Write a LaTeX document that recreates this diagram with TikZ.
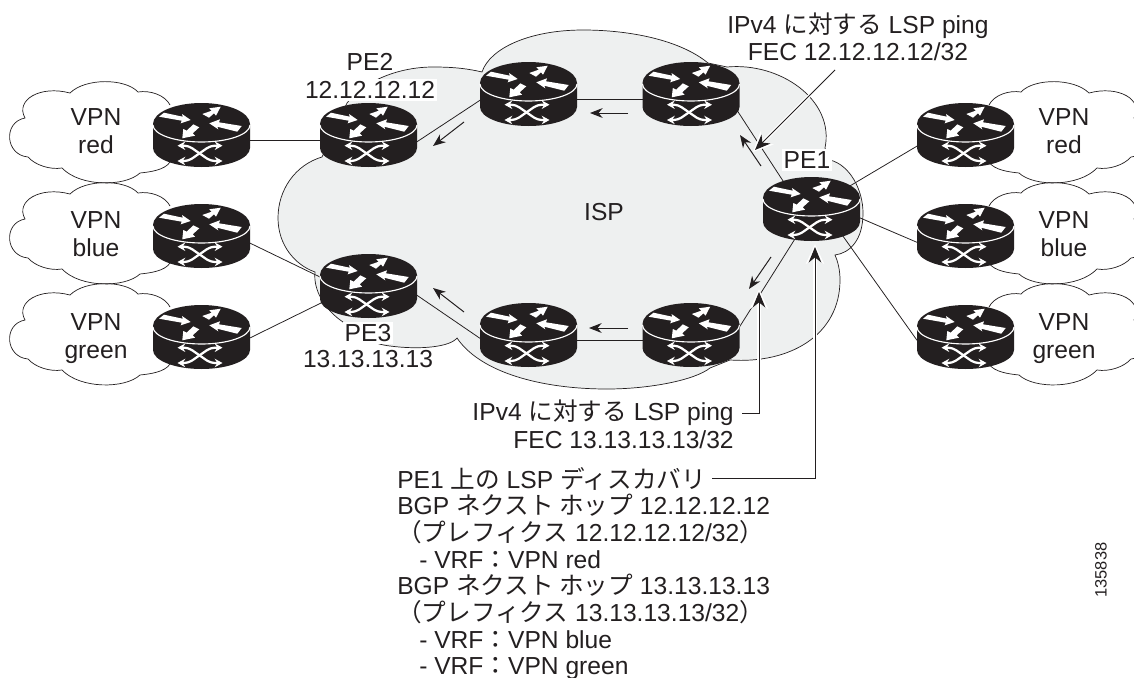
\documentclass[tikz,border=0pt]{standalone}
\usepackage{fontspec}
\setmainfont{Liberation Sans}
\newfontfamily\cjk{Noto Sans CJK JP}
\usetikzlibrary{arrows.meta,calc,shapes.geometric}
\def\jp#1{{\cjk #1}}
\definecolor{ink}{HTML}{231F20}
\definecolor{ispgrey}{HTML}{EEF0F0}
\tikzset{
  lbl/.style={font=\fontsize{17.5}{19.5}\selectfont,text=ink,inner sep=0pt},
  halo/.style={lbl,fill=white,inner sep=1.5pt},
  outline/.style={draw=ink,line width=0.5pt},
  conn/.style={draw=ink,line width=0.55pt},
  routernode/.style={ellipse,minimum width=2.42cm,minimum height=1.6cm,inner sep=0pt},
  flowarrow/.style={draw=ink,line width=0.7pt,-{Stealth[length=9pt,width=7pt]}},
  callout/.style={draw=ink,line width=0.7pt,-{Stealth[length=11pt,width=9pt]},
    preaction={draw=white,line width=2.4pt,shorten >=-2pt,-{Stealth[length=14pt,width=13pt]}}},
  vpncloud/.pic={
    \draw[outline] (-31.5,-30) .. controls (-36.5,-40) and (-51.5,-45) .. (-63.5,-43)
      .. controls (-76.5,-57) and (-116.5,-57) .. (-131.5,-42)
      .. controls (-161.5,-50) and (-186.5,-35) .. (-176.5,-17)
      .. controls (-198.5,-13) and (-196.5,20) .. (-173.5,22)
      .. controls (-166.5,30) and (-151.5,35) .. (-139.5,33)
      .. controls (-121.5,52) and (-76.5,52) .. (-61.5,38)
      .. controls (-51.5,37) and (-36.5,35) .. (-31.5,27);
  },
  routericon/.pic={
    \fill[ink] (-48.5,-11) -- (-48.5,13) arc[start angle=180,end angle=0,x radius=48.5,y radius=19]
      -- (48.5,-11) arc[start angle=0,end angle=-180,x radius=48.5,y radius=21] -- cycle;
    \draw[white,line width=0.8pt] (-48.5,-10) arc[start angle=180,end angle=0,x radius=48.5,y radius=17];
    % arrows on the lid
    \fill[white] (-42.5,-18.3) -- (-37.5,-22.3) -- (-18.8,-18.3) -- (-19.5,-21) -- (-10.8,-15) -- (-20.8,-11.7) -- (-19.8,-14.3) -- cycle;
    \fill[white] (0.8,-21) -- (7.5,-17.3) -- (12.5,-21.7) -- (14.5,-19.3) -- (19.2,-28.3) -- (7.8,-26.7) -- (10.2,-24.3) -- cycle;
    \fill[white] (-8.2,-10.7) -- (-2.2,-7.7) -- (-8.8,-1.7) -- (-6.5,0.7) -- (-19.2,3.3) -- (-18.2,-6) -- (-14.8,-4.3) -- cycle;
    \fill[white] (7.8,-11.7) -- (18.5,-15.7) -- (17.5,-12.7) -- (40.2,-9) -- (35.8,-3.3) -- (15.8,-8.3) -- (16.8,-5.7) -- cycle;
    % crossing arrows on the side
    \draw[white,line width=1.6pt,rounded corners=3pt,{Stealth[length=5.5pt,width=6pt]}-{Stealth[length=5.5pt,width=6pt]}] (-24,10.7) -- (-13,10.7) -- (9,26) -- (21,26);
    \draw[white,line width=1.6pt,rounded corners=3pt,{Stealth[length=5.5pt,width=6pt]}-{Stealth[length=5.5pt,width=6pt]}] (-24,26) -- (-13,26) -- (9,10.7) -- (21,10.7);
  }
}
\def\flow#1#2#3{\coordinate (#1s) at (#2); \coordinate (#1e) at (#3); \draw[flowarrow] (#1s) -- (#1e);}

\begin{document}
\begin{tikzpicture}[x=0.025cm,y=-0.025cm]
\useasboundingbox (0,0) rectangle (1134,678);
\clip (0,0) rectangle (1134,678);

% ISP cloud
\draw[outline,fill=ispgrey] (322,157) .. controls (295,165) and (278,190) .. (278,218)
  .. controls (278,245) and (295,265) .. (315,272)
  .. controls (313,290) and (325,310) .. (343,322)
  .. controls (355,335) and (372,344) .. (390,346)
  .. controls (420,350) and (450,347) .. (457,338)
  .. controls (480,372) and (540,389) .. (607,389)
  .. controls (650,389) and (695,380) .. (710,368)
  -- (730,360)
  .. controls (790,364) and (840,335) .. (840,280)
  .. controls (840,270) and (838,262) .. (835,255)
  .. controls (850,253) and (863,240) .. (863,213)
  .. controls (863,190) and (850,165) .. (830,160)
  -- (825,148)
  .. controls (835,100) and (780,62) .. (727,67)
  -- (708,63)
  .. controls (680,40) and (630,30) .. (583,30)
  .. controls (530,30) and (490,48) .. (482,72)
  .. controls (465,68) and (450,67) .. (433,67)
  .. controls (400,67) and (365,80) .. (347,103)
  -- cycle;

\foreach \rname/\rpos in {vr/{201.5,135},vb/{201.5,236},vg/{201.5,337},pe2/{368.5,135},pe3/{368.5,286},
  ta/{528.5,94},tb/{691,94},ba/{528.5,335},bb/{691,335},pe1/{811.5,209},
  rr/{965.5,135},rb/{965.5,236},rg/{965.5,337}}
  \node[routernode] (\rname) at (\rpos) {};

\foreach \rname in {vr,vb,vg} \pic at (\rname) {vpncloud};
\foreach \rname in {rr,rb,rg} \pic[xscale=-1] at ($(\rname)+(-8,0)$) {vpncloud};

% links
\draw[conn] (vr.-7) -- (pe2.187);
\draw[conn] (vb.-8) -- (pe3.170);
\draw[conn] (vg.-1) -- (pe3.199);
\draw[conn] (pe2.-9) -- (ta.187);
\draw[conn] (ta.-6) -- (tb.186);
\draw[conn] (tb.-17) -- (pe1.136);
\draw[conn] (pe3.-10) -- (ba.184);
\draw[conn] (ba.-7) -- (bb.187);
\draw[conn] (bb.8) -- (pe1.241);
\draw[conn] (pe1.31) -- (rr.192);
\draw[conn] (pe1.-10) -- (rb.188);
\draw[conn] (pe1.-40) -- (rg.184);

\foreach \rname in {vr,vb,vg,pe2,pe3,ta,tb,ba,bb,pe1,rr,rb,rg} \pic at (\rname) {routericon};

% traffic direction
\flow{fa}{761,166}{740,135}
\flow{fb}{628,113}{590,113}
\flow{fc}{464,122}{433,146}
\flow{fd}{771,257}{749,289}
\flow{fe}{628,328}{589,328}
\flow{ff}{464,312}{433,288}

\foreach \cname/\cx/\cy/\ctxt in {lr/96/135/red,lb/96/238/blue,lg/96/340/green,
  mr/1064/135/red,mb/1064/238/blue,mg/1064/340/green}
  \node[lbl,align=center] (\cname) at (\cx,\cy) {VPN\\\ctxt\strut};

\node[lbl] (isp) at (604,212) {ISP};
\node[lbl] (pe2a) at (370,62) {PE2};
\node[halo] (pe2b) at (370,90) {12.12.12.12};
\node[halo] (pe3a) at (368,333) {PE3};
\node[lbl] (pe3b) at (368,359) {13.13.13.13};
\node[halo] (pe1a) at (807,160) {PE1};

\node[lbl] (pinga) at (858,26) {IPv4 \jp{に対する} LSP ping};
\node[lbl] (feca) at (858,52) {FEC 12.12.12.12/32};
\node[lbl,anchor=east] (pingb) at (734,413) {IPv4 \jp{に対する} LSP ping};
\node[lbl,anchor=east] (fecb) at (734,440) {FEC 13.13.13.13/32};

\node[lbl,anchor=base west] (disca) at (397,488) {PE1 \jp{上の} LSP \jp{ディスカバリ}};
\node[lbl,anchor=base west] (discb) at (397,514.7) {BGP \jp{ネクスト ホップ} 12.12.12.12};
\node[lbl,anchor=base west] (discc) at (397,541.4) {\jp{（プレフィクス} 12.12.12.12/32\jp{）}};
\node[lbl,anchor=base west] (discd) at (419,568.1) {- VRF\jp{：}VPN red};
\node[lbl,anchor=base west] (disce) at (397,594.8) {BGP \jp{ネクスト ホップ} 13.13.13.13};
\node[lbl,anchor=base west] (discf) at (397,621.5) {\jp{（プレフィクス} 13.13.13.13/32\jp{）}};
\node[lbl,anchor=base west] (discg) at (419,648.2) {- VRF\jp{：}VPN blue};
\node[lbl,anchor=base west] (disch) at (419,674.9) {- VRF\jp{：}VPN green};

\node[lbl,font=\fontsize{11.7}{14}\selectfont,rotate=90] (fignum) at (1101,570) {135838};

% callouts
\coordinate (ca) at (835,70);
\coordinate (cb) at (755,150);
\coordinate (cc) at (759,292);
\coordinate (cd) at (815,247);
\draw[callout] (ca) -- (cb);
\draw[callout] ([xshift=0.2cm]pingb.east) -| (cc);
\draw[callout] ([xshift=0.15cm]disca.east) -| (cd);
\end{tikzpicture}
\end{document}
